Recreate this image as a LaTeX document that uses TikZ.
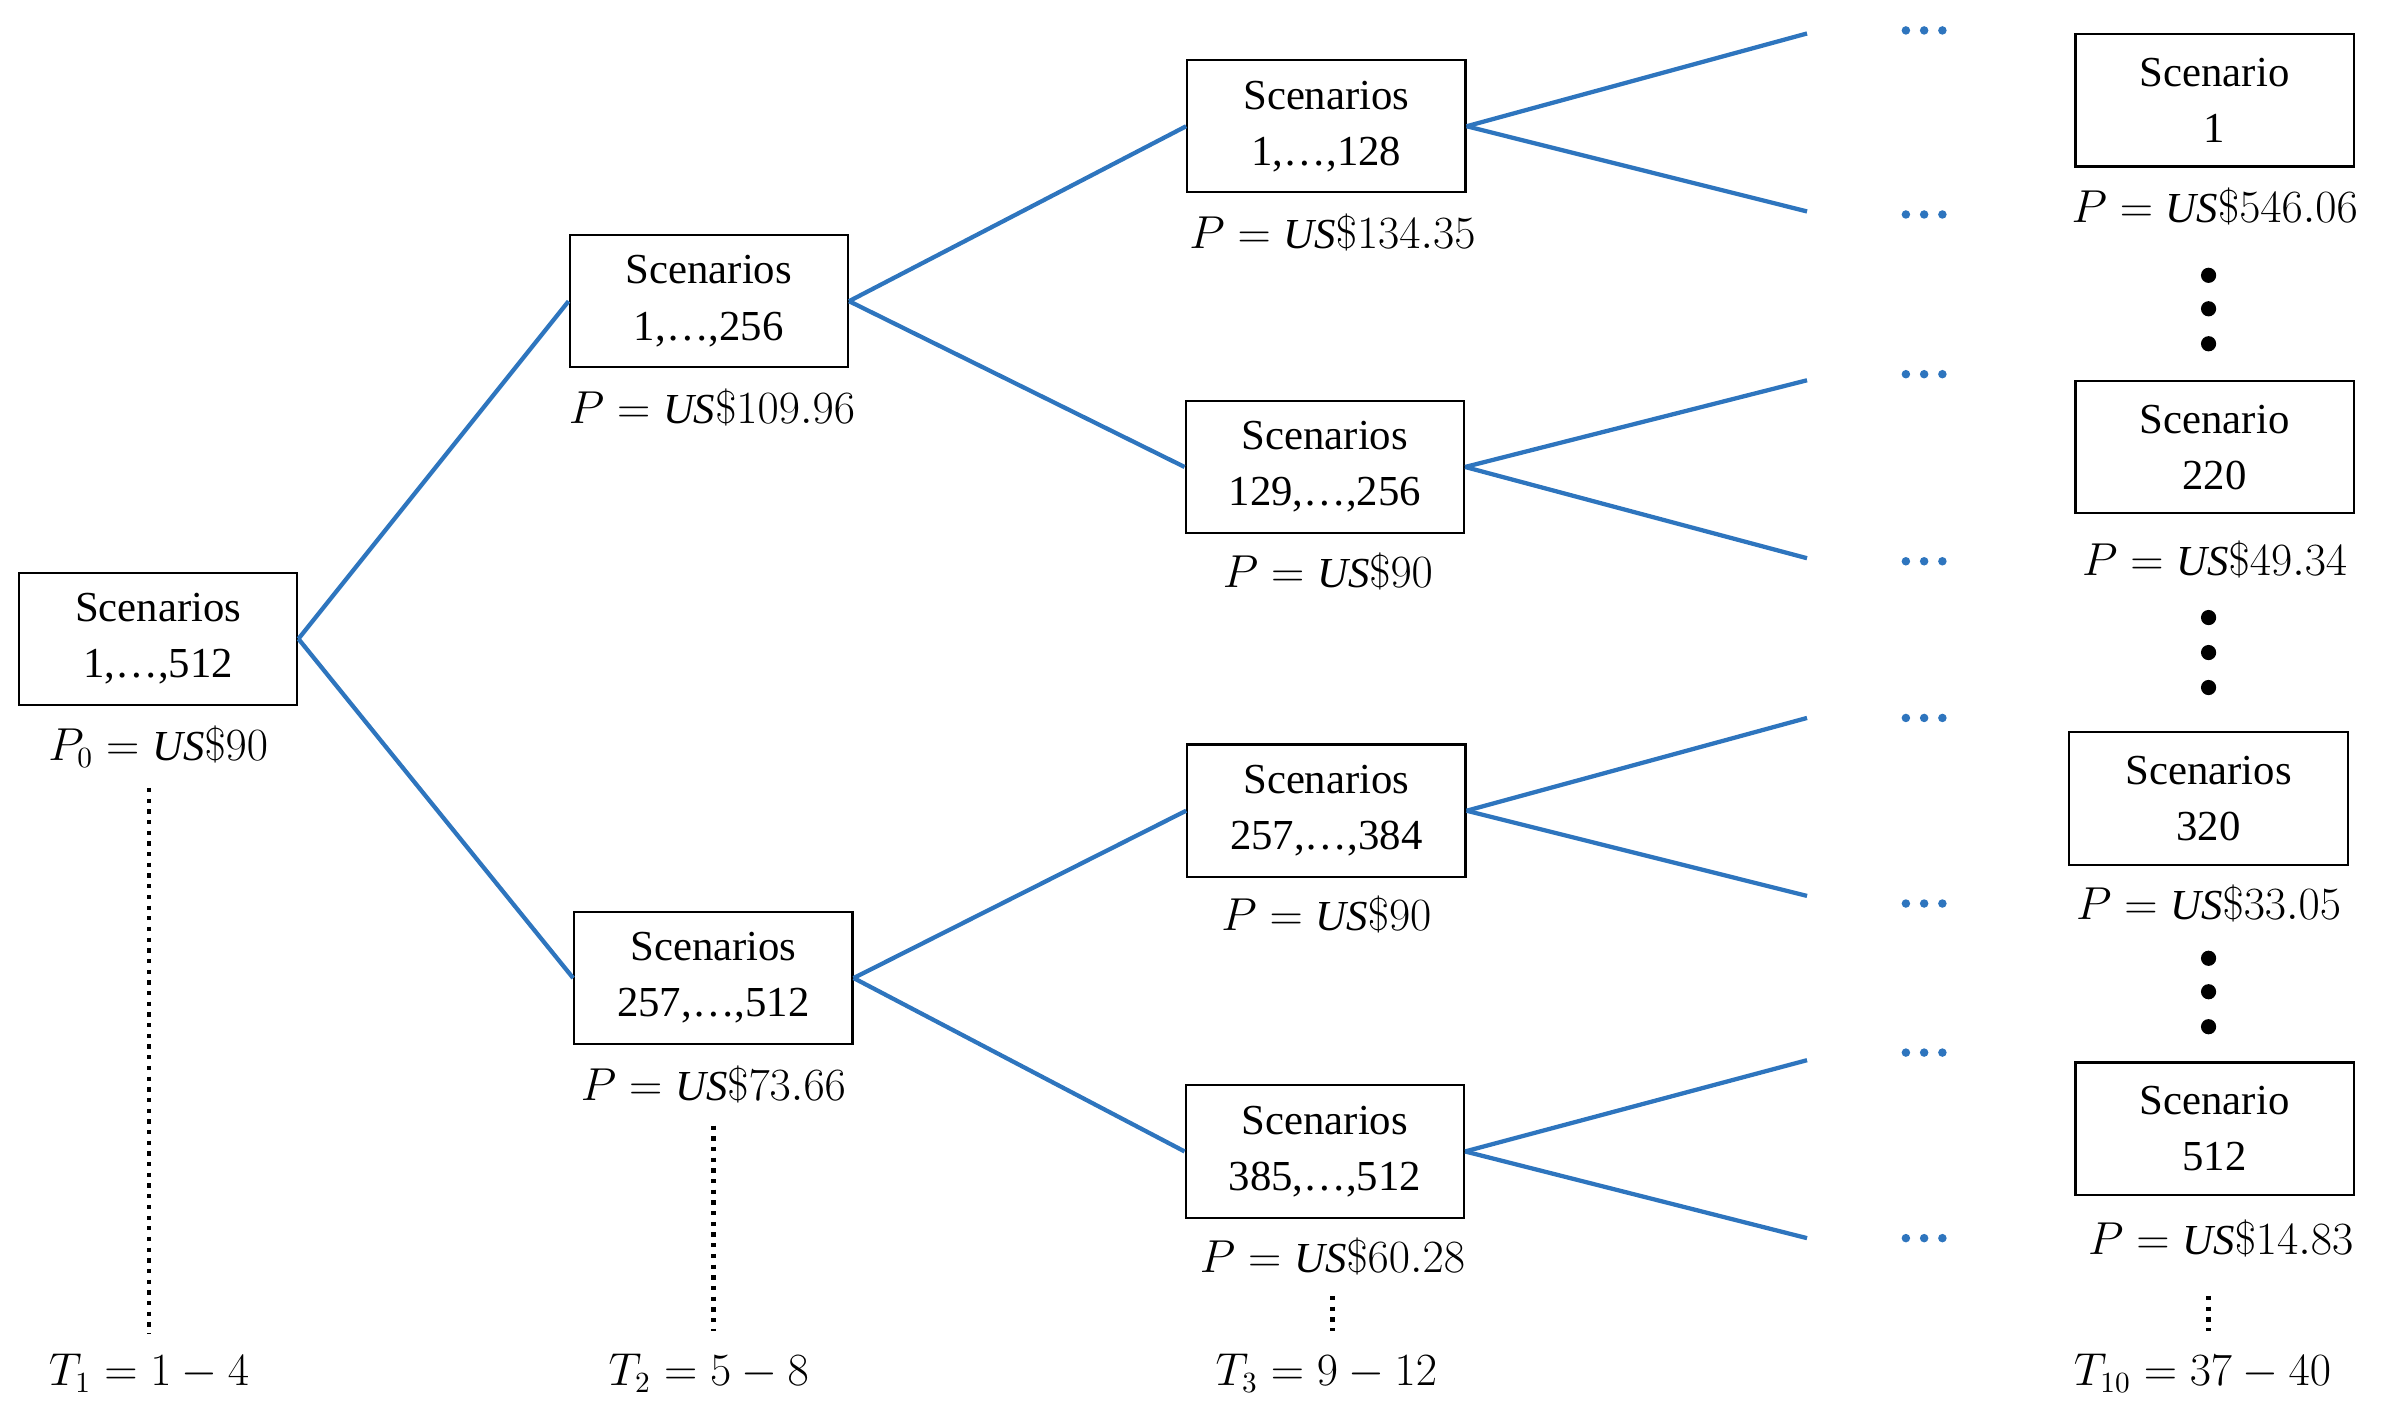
\documentclass[tikz,border=0pt]{standalone}
\usepackage{fontspec}
\setmainfont{Liberation Serif}
\definecolor{lb}{RGB}{46,117,190}
\begin{document}
\begin{tikzpicture}[x=0.02cm,y=-0.02cm,
  box/.style={draw,line width=0.8pt,minimum width=183*0.02cm,minimum height=87*0.02cm,align=center,inner sep=0pt,font=\fontsize{16}{21}\selectfont},
  lab/.style={font=\fontsize{16}{19}\selectfont},
  br/.style={lb,line width=1.6pt},
  vd/.style={line width=1.6pt,dash pattern=on 1.6pt off 2.4pt}]
\useasboundingbox (0,0) rectangle (1568,937);
\node[box] (r) at (104,420) {Scenarios\\1,\dots,512};
\node[box] (a) at (466,198) {Scenarios\\1,\dots,256};
\node[box] (b) at (469,643) {Scenarios\\257,\dots,512};
\node[box] (a1) at (872,83) {Scenarios\\1,\dots,128};
\node[box] (a2) at (871,307) {Scenarios\\129,\dots,256};
\node[box] (b1) at (872,533) {Scenarios\\257,\dots,384};
\node[box] (b2) at (871,757) {Scenarios\\385,\dots,512};
\node[box] (s1) at (1456,66) {Scenario\\1};
\node[box] (s2) at (1456,294) {Scenario\\220};
\node[box] (s3) at (1452,525) {Scenarios\\320};
\node[box] (s4) at (1456,742) {Scenario\\512};
\node[lab] (pr) at (104,491) {$P_0=\mathit{US}\$90$};
\node[lab] (pa) at (468,268) {$P=\mathit{US}\$109.96$};
\node[lab] (pb) at (469,713) {$P=\mathit{US}\$73.66$};
\node[lab] (pa1) at (876,153) {$P=\mathit{US}\$134.35$};
\node[lab] (pa2) at (873,376) {$P=\mathit{US}\$90$};
\node[lab] (pb1) at (872,601) {$P=\mathit{US}\$90$};
\node[lab] (pb2) at (876,826) {$P=\mathit{US}\$60.28$};
\node[lab] (ps1) at (1456,136) {$P=\mathit{US}\$546.06$};
\node[lab] (ps2) at (1456,368) {$P=\mathit{US}\$49.34$};
\node[lab] (ps3) at (1452,594) {$P=\mathit{US}\$33.05$};
\node[lab] (ps4) at (1460,814) {$P=\mathit{US}\$14.83$};
\node[lab] (t1) at (98,903) {$T_1=1-4$};
\node[lab] (t2) at (466,903) {$T_2=5-8$};
\node[lab] (t3) at (872,903) {$T_3=9-12$};
\node[lab] (t10) at (1448,903) {$T_{10}=37-40$};
\draw[br] (r.east) -- (a.west);
\draw[br] (r.east) -- (b.west);
\draw[br] (a.east) -- (a1.west);
\draw[br] (a.east) -- (a2.west);
\draw[br] (b.east) -- (b1.west);
\draw[br] (b.east) -- (b2.west);
\foreach \n/\y in {a1/22,a2/250,b1/472,b2/697}{
  \coordinate (\n u) at (1188,\y);
  \coordinate (\n d) at (1188,\y+117);
  \draw[br] (\n.east) -- (\n u);
  \draw[br] (\n.east) -- (\n d);
}
\foreach \y in {20,141,246,369,472,594,692,814}
  \foreach \dx in {-12,0,12}
    \fill[lb] (1265+\dx,\y) circle (2.8);
\foreach \y in {181,203,226,406,429,452,630,652,675}
  \fill (1452,\y) circle (5);
\coordinate (v1) at (98,518); \coordinate (v1e) at (98,877);
\coordinate (v2) at (469,740); \coordinate (v2e) at (469,875);
\coordinate (v3) at (876,852); \coordinate (v3e) at (876,875);
\coordinate (v4) at (1452,852); \coordinate (v4e) at (1452,875);
\draw[vd] (v1)--(v1e); \draw[vd] (v2)--(v2e);
\draw[vd] (v3)--(v3e); \draw[vd] (v4)--(v4e);
\end{tikzpicture}
\end{document}
